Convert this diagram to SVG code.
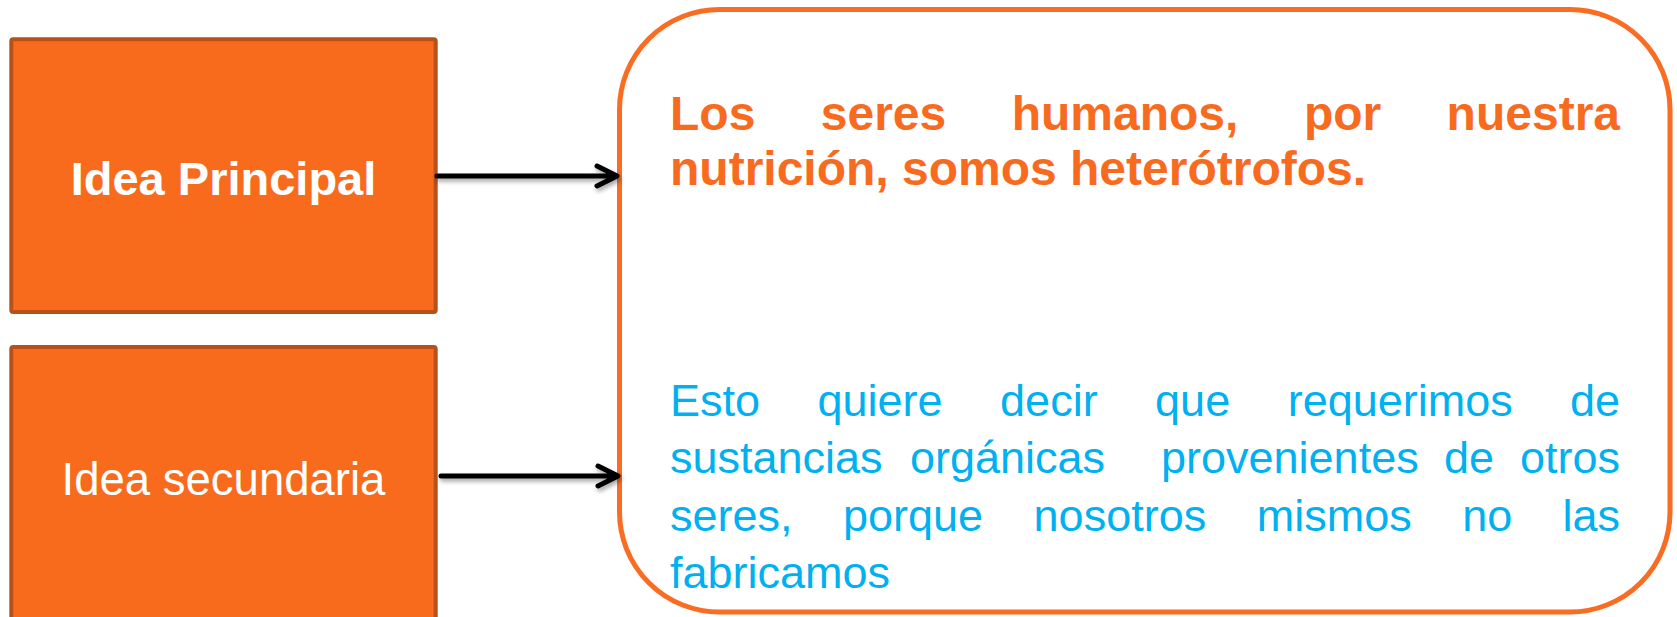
<svg xmlns="http://www.w3.org/2000/svg" width="1677" height="617" viewBox="0 0 1677 617">
<style>
.box{fill:#F86B1D;stroke:#B8501A;stroke-width:4}
.lbl{fill:#FFFFFF;font-family:"Liberation Sans",Arial,sans-serif;text-anchor:middle}
.main{fill:#F86B1F;font-family:"Liberation Sans",Arial,sans-serif;font-weight:bold;font-size:48px}
.sec{fill:#00B0F0;font-family:"Liberation Sans",Arial,sans-serif;font-size:45px}
.conn{stroke:#000000;stroke-width:5;fill:none;stroke-linecap:round;stroke-linejoin:round;filter:url(#sh)}
</style>
<defs>
<filter id="sh" x="-10%" y="-100%" width="130%" height="300%">
<feDropShadow dx="1.5" dy="3" stdDeviation="2" flood-color="#000" flood-opacity="0.35"/>
</filter>
</defs>
<rect width="1677" height="617" fill="#FFFFFF"/>
<g id="idea-principal">
<rect class="box" x="11.3" y="39.3" width="424.4" height="272.7" rx="2"/>
<text class="lbl" x="223.5" y="195" font-size="47" font-weight="bold">Idea Principal</text>
</g>
<g id="idea-secundaria">
<rect class="box" x="11.3" y="347" width="424.4" height="290" rx="2"/>
<text class="lbl" x="223.5" y="495" font-size="45.5">Idea secundaria</text>
</g>
<g id="contenido">
<rect x="619.5" y="9.5" width="1050.5" height="602.5" rx="100" ry="100" fill="#FFFFFF" stroke="#F96C22" stroke-width="5"/>
<text class="main" y="130"><tspan x="670">Los</tspan><tspan x="820.8">seres</tspan><tspan x="1011.7">humanos,</tspan><tspan x="1303.9">por</tspan><tspan x="1620" text-anchor="end">nuestra</tspan></text>
<text class="main" x="670" y="185">nutrición, somos heterótrofos.</text>
<text class="sec" y="416"><tspan x="670">Esto</tspan><tspan x="817.5">quiere</tspan><tspan x="1000.1">decir</tspan><tspan x="1155.1">que</tspan><tspan x="1287.7">requerimos</tspan></text>
<text class="sec" x="1620" y="416" text-anchor="end">de</text>
<text class="sec" y="473"><tspan x="670">sustancias</tspan><tspan x="910">orgánicas</tspan><tspan x="1161">provenientes</tspan><tspan x="1444">de</tspan></text>
<text class="sec" x="1620" y="473" text-anchor="end">otros</text>
<text class="sec" y="531"><tspan x="670">seres,</tspan><tspan x="843">porque</tspan><tspan x="1033.6">nosotros</tspan><tspan x="1256.7">mismos</tspan><tspan x="1462.2">no</tspan></text>
<text class="sec" x="1620" y="531" text-anchor="end">las</text>
<text class="sec" x="670" y="588">fabricamos</text>
</g>
<g id="connectors">
<path class="conn" d="M437,176 H616 M597,166 L617,176 L597,186"/>
<path class="conn" d="M441,476 H617 M598,466 L618,476 L598,486"/>
</g>
</svg>
